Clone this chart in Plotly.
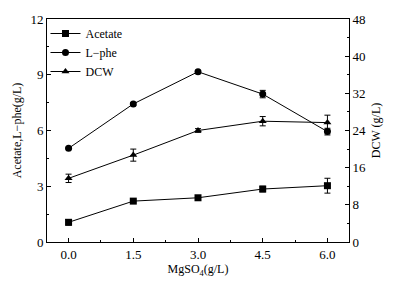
import plotly.graph_objects as go

mgso4 = [0.0, 1.5, 3.0, 4.5, 6.0]
acetate = [1.06, 2.2, 2.38, 2.85, 3.03]
acetate_err = [0.15, 0.05, 0.12, 0.15, 0.4]
lphe = [5.04, 7.43, 9.16, 7.96, 5.94]
lphe_err = [0.05, 0.08, 0.08, 0.2, 0.18]
dcw = [13.7, 18.7, 24.0, 26.0, 25.7]
dcw_err = [0.9, 1.3, 0.4, 1.0, 1.6]

font = "Liberation Serif"
fig = go.Figure()

def add(name, x, y, err, sym, axis="y"):
    fig.add_trace(go.Scatter(
        x=x, y=y, name=name, mode="lines+markers", yaxis=axis,
        line=dict(color="black", width=1),
        marker=dict(symbol=sym, size=7, color="black"),
        error_y=dict(type="data", array=err, visible=True, color="black", thickness=1, width=3),
    ))

add("Acetate", mgso4, acetate, acetate_err, "square")
add("L\u2212phe", mgso4, lphe, lphe_err, "circle")
add("DCW", mgso4, dcw, dcw_err, "triangle-up", "y2")

ax_common = dict(showline=True, linecolor="black", linewidth=1, ticks="inside", ticklen=4,
                 tickcolor="black", showgrid=False, zeroline=False, automargin=True,
                 tickfont=dict(family=font, size=13, color="black"))

fig.update_layout(
    width=403, height=296,
    margin=dict(l=47, r=54, t=19, b=54, autoexpand=False),
    paper_bgcolor="white", plot_bgcolor="white",
    font=dict(family=font, color="black"),
    showlegend=True,
    legend=dict(orientation="h", x=-0.005, y=1.0, xanchor="left", yanchor="top",
                bgcolor="rgba(0,0,0,0)", font=dict(family=font, size=12),
                itemwidth=30, tracegroupgap=0, entrywidth=75, entrywidthmode="pixels"),
    xaxis=dict(**ax_common, range=[-0.5, 6.5], tickvals=[0, 1.5, 3.0, 4.5, 6.0],
               ticktext=["0.0", "1.5", "3.0", "4.5", "6.0"], mirror=True,
               minor=dict(ticks="inside", ticklen=2, tickvals=[0.75, 2.25, 3.75, 5.25], tickcolor="black"),
               title=dict(text="MgSO<sub>4</sub>(g/L)", font=dict(family=font, size=12), standoff=4)),
    yaxis=dict(**ax_common, range=[0, 12], tickvals=[0, 3, 6, 9, 12],
               minor=dict(ticks="inside", ticklen=2, tickvals=[1.5, 4.5, 7.5, 10.5], tickcolor="black"),
               title=dict(text="Acetate,L\u2212phe(g/L)", font=dict(family=font, size=12), standoff=6)),
    yaxis2=dict(**ax_common, range=[0, 48], tickvals=[0, 8, 16, 24, 32, 40, 48],
                overlaying="y", side="right",
                minor=dict(ticks="inside", ticklen=2, tickvals=[4, 12, 20, 28, 36, 44], tickcolor="black"),
                title=dict(text="DCW (g/L)", font=dict(family=font, size=12), standoff=6)),
)

fig.write_html("out.html", config={"displayModeBar": False},
               post_script="document.body.style.margin='0';document.body.style.padding='0';")
